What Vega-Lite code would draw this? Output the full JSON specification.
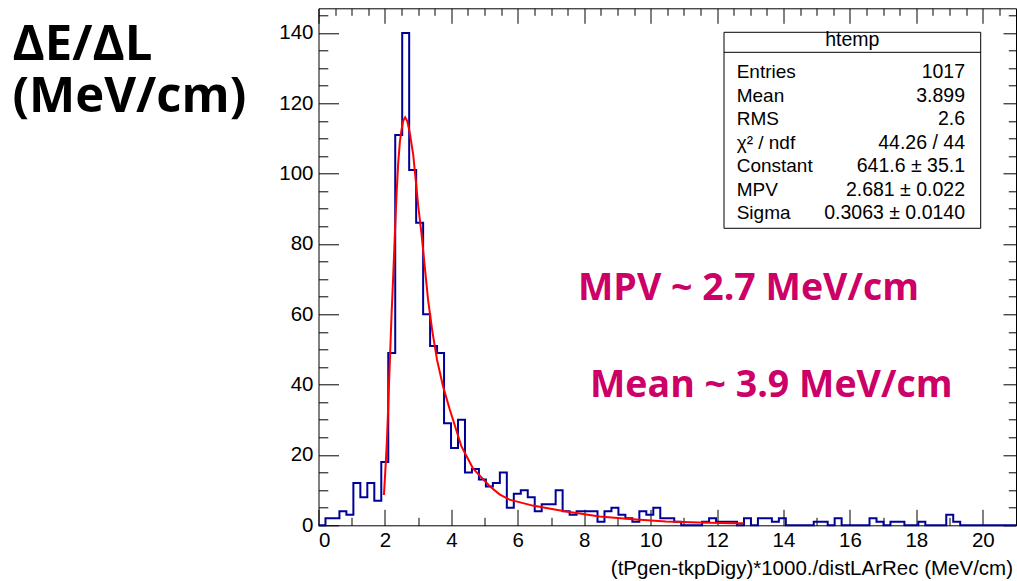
{
  "$schema": "https://vega.github.io/schema/vega-lite/v6.json",
  "width": 697.5,
  "height": 517,
  "autosize": {"type": "none"},
  "padding": {"left": 318.5, "top": 8.3, "right": 1, "bottom": 55.7},
  "background": "white",
  "config": {
    "font": "Liberation Sans",
    "view": {"stroke": "black", "strokeWidth": 1},
    "axis": {"grid": false, "domain": false, "tickColor": "black", "tickWidth": 1, "labelColor": "black", "labelFont": "Liberation Sans", "labelFontSize": 20.5}
  },
  "datasets": {
    "hist": [
      {"lo": 0, "n": 0}, {"lo": 0.21, "n": 2}, {"lo": 0.42, "n": 2}, {"lo": 0.63, "n": 4}, {"lo": 0.84, "n": 3},
      {"lo": 1.05, "n": 12}, {"lo": 1.26, "n": 8}, {"lo": 1.47, "n": 12}, {"lo": 1.68, "n": 7}, {"lo": 1.89, "n": 18},
      {"lo": 2.1, "n": 49}, {"lo": 2.31, "n": 111}, {"lo": 2.52, "n": 140}, {"lo": 2.73, "n": 101}, {"lo": 2.94, "n": 86},
      {"lo": 3.15, "n": 60}, {"lo": 3.36, "n": 51}, {"lo": 3.57, "n": 49}, {"lo": 3.78, "n": 29}, {"lo": 3.99, "n": 22},
      {"lo": 4.2, "n": 30}, {"lo": 4.41, "n": 15}, {"lo": 4.62, "n": 16}, {"lo": 4.83, "n": 13}, {"lo": 5.04, "n": 11},
      {"lo": 5.25, "n": 12}, {"lo": 5.46, "n": 15}, {"lo": 5.67, "n": 5}, {"lo": 5.88, "n": 9}, {"lo": 6.09, "n": 10},
      {"lo": 6.3, "n": 8}, {"lo": 6.51, "n": 4}, {"lo": 6.72, "n": 6}, {"lo": 6.93, "n": 6}, {"lo": 7.14, "n": 10},
      {"lo": 7.35, "n": 4}, {"lo": 7.56, "n": 3}, {"lo": 7.77, "n": 4}, {"lo": 7.98, "n": 4}, {"lo": 8.19, "n": 4},
      {"lo": 8.4, "n": 1}, {"lo": 8.61, "n": 4}, {"lo": 8.82, "n": 5}, {"lo": 9.03, "n": 3}, {"lo": 9.24, "n": 2},
      {"lo": 9.45, "n": 1}, {"lo": 9.66, "n": 4}, {"lo": 9.87, "n": 3}, {"lo": 10.08, "n": 5}, {"lo": 10.29, "n": 2},
      {"lo": 10.5, "n": 2}, {"lo": 10.71, "n": 1}, {"lo": 10.92, "n": 0}, {"lo": 11.13, "n": 0}, {"lo": 11.34, "n": 0},
      {"lo": 11.55, "n": 1}, {"lo": 11.76, "n": 2}, {"lo": 11.97, "n": 1}, {"lo": 12.18, "n": 1}, {"lo": 12.39, "n": 1},
      {"lo": 12.6, "n": 0}, {"lo": 12.81, "n": 2}, {"lo": 13.02, "n": 0}, {"lo": 13.23, "n": 2}, {"lo": 13.44, "n": 2},
      {"lo": 13.65, "n": 1}, {"lo": 13.86, "n": 2}, {"lo": 14.07, "n": 0}, {"lo": 14.28, "n": 0}, {"lo": 14.49, "n": 0},
      {"lo": 14.7, "n": 0}, {"lo": 14.91, "n": 1}, {"lo": 15.12, "n": 1}, {"lo": 15.33, "n": 0}, {"lo": 15.54, "n": 2},
      {"lo": 15.75, "n": 0}, {"lo": 15.96, "n": 0}, {"lo": 16.17, "n": 0}, {"lo": 16.38, "n": 0}, {"lo": 16.59, "n": 2},
      {"lo": 16.8, "n": 1}, {"lo": 17.01, "n": 0}, {"lo": 17.22, "n": 1}, {"lo": 17.43, "n": 1}, {"lo": 17.64, "n": 0},
      {"lo": 17.85, "n": 0}, {"lo": 18.06, "n": 1}, {"lo": 18.27, "n": 0}, {"lo": 18.48, "n": 0}, {"lo": 18.69, "n": 0},
      {"lo": 18.9, "n": 3}, {"lo": 19.11, "n": 1}, {"lo": 19.32, "n": 0}, {"lo": 19.53, "n": 0}, {"lo": 19.74, "n": 0},
      {"lo": 19.95, "n": 0}, {"lo": 20.16, "n": 0}, {"lo": 20.37, "n": 0}, {"lo": 20.58, "n": 0}, {"lo": 20.79, "n": 0},
      {"lo": 21.0, "n": 0}
    ],
    "fit": [
      {"e": 1.97, "f": 8.6}, {"e": 2.0, "f": 13.5}, {"e": 2.03, "f": 18.6}, {"e": 2.06, "f": 24}, {"e": 2.1, "f": 34},
      {"e": 2.15, "f": 47}, {"e": 2.2, "f": 60}, {"e": 2.25, "f": 71}, {"e": 2.3, "f": 83}, {"e": 2.35, "f": 94},
      {"e": 2.4, "f": 103}, {"e": 2.45, "f": 109}, {"e": 2.5, "f": 112.5}, {"e": 2.55, "f": 115}, {"e": 2.61, "f": 116},
      {"e": 2.67, "f": 115}, {"e": 2.75, "f": 111.5}, {"e": 2.85, "f": 105.5}, {"e": 2.95, "f": 96}, {"e": 3.0, "f": 91},
      {"e": 3.1, "f": 83}, {"e": 3.2, "f": 73.5}, {"e": 3.3, "f": 64}, {"e": 3.43, "f": 55}, {"e": 3.57, "f": 47},
      {"e": 3.75, "f": 39.5}, {"e": 3.95, "f": 33}, {"e": 4.1, "f": 28.5}, {"e": 4.3, "f": 22.5}, {"e": 4.65, "f": 16.2},
      {"e": 5.15, "f": 11.2}, {"e": 5.45, "f": 8.8}, {"e": 5.75, "f": 7.3}, {"e": 6.45, "f": 5.6}, {"e": 7.46, "f": 3.9},
      {"e": 8.46, "f": 2.5}, {"e": 9.46, "f": 1.7}, {"e": 10.46, "f": 1.1}, {"e": 11.46, "f": 0.8}, {"e": 12.45, "f": 0.6},
      {"e": 12.8, "f": 0.55}
    ]
  },
  "layer": [
    {
      "data": {"name": "hist"},
      "mark": {"type": "line", "interpolate": "step-after", "color": "#000099", "strokeWidth": 2},
      "encoding": {
        "x": {
          "field": "lo", "type": "quantitative",
          "scale": {"domain": [0, 21], "nice": false, "zero": false},
          "axis": {
            "orient": "bottom",
            "values": [0,0.5,1,1.5,2,2.5,3,3.5,4,4.5,5,5.5,6,6.5,7,7.5,8,8.5,9,9.5,10,10.5,11,11.5,12,12.5,13,13.5,14,14.5,15,15.5,16,16.5,17,17.5,18,18.5,19,19.5,20,20.5,21],
            "format": "d",
            "labelExpr": "datum.value % 2 === 0 ? datum.label : ''",
            "tickSize": {"condition": {"test": "datum.value % 2 === 0", "value": -16}, "value": -8},
            "labelPadding": 21,
            "title": "(tPgen-tkpDigy)*1000./distLArRec (MeV/cm)",
            "titleFont": "Liberation Sans", "titleFontSize": 20.5, "titleFontWeight": "normal", "titleColor": "black",
            "titleAlign": "right", "titleAnchor": "end", "titleBaseline": "alphabetic",
            "titleX": 694, "titleY": 49
          }
        },
        "y": {
          "field": "n", "type": "quantitative",
          "scale": {"domain": [0, 147], "nice": false},
          "axis": {
            "orient": "left",
            "values": [0,5,10,15,20,25,30,35,40,45,50,55,60,65,70,75,80,85,90,95,100,105,110,115,120,125,130,135,140,145],
            "format": "d",
            "labelExpr": "datum.value % 20 === 0 ? datum.label : ''",
            "tickSize": {"condition": {"test": "datum.value % 20 === 0", "value": -20}, "value": -9.3},
            "labelPadding": 25.5,
            "title": ["ΔE/ΔL", "(MeV/cm)"],
            "titleFont": "Open Sans", "titleFontSize": 49, "titleFontWeight": "bold", "titleColor": "black",
            "titleAngle": 0, "titleAlign": "left", "titleBaseline": "top", "titleLineHeight": 52,
            "titleX": -306.5, "titleY": 12
          }
        }
      }
    },
    {
      "data": {"name": "fit"},
      "mark": {"type": "line", "color": "#ff0000", "strokeWidth": 2},
      "encoding": {
        "x": {
          "field": "e", "type": "quantitative",
          "scale": {"domain": [0, 21], "nice": false, "zero": false},
          "axis": {
            "orient": "top",
            "values": [0,0.5,1,1.5,2,2.5,3,3.5,4,4.5,5,5.5,6,6.5,7,7.5,8,8.5,9,9.5,10,10.5,11,11.5,12,12.5,13,13.5,14,14.5,15,15.5,16,16.5,17,17.5,18,18.5,19,19.5,20,20.5,21],
            "labels": false,
            "tickSize": {"condition": {"test": "datum.value % 2 === 0", "value": -15}, "value": -7},
            "title": null
          }
        },
        "y": {
          "field": "f", "type": "quantitative",
          "scale": {"domain": [0, 147], "nice": false},
          "axis": {
            "orient": "right",
            "values": [0,5,10,15,20,25,30,35,40,45,50,55,60,65,70,75,80,85,90,95,100,105,110,115,120,125,130,135,140,145],
            "labels": false,
            "tickSize": {"condition": {"test": "datum.value % 20 === 0", "value": -13}, "value": -7.7},
            "title": null
          }
        }
      }
    },
    {
      "data": {"values": [{}]},
      "mark": {"type": "rect", "fill": "white", "stroke": "black", "strokeWidth": 1},
      "encoding": {
        "x": {"datum": 12.209, "type": "quantitative", "axis": null},
        "x2": {"datum": 19.937},
        "y": {"datum": 140.18, "type": "quantitative", "axis": null},
        "y2": {"datum": 84.45}
      }
    },
    {
      "data": {"values": [{}]},
      "mark": {"type": "rule", "color": "black", "strokeWidth": 1},
      "encoding": {
        "x": {"datum": 12.209, "type": "quantitative", "axis": null},
        "x2": {"datum": 19.937},
        "y": {"datum": 134.49, "type": "quantitative", "axis": null}
      }
    },
    {
      "data": {"values": [{}]},
      "mark": {"type": "text", "text": "htemp", "font": "Liberation Sans", "fontSize": 19.5, "align": "center", "baseline": "alphabetic", "color": "black"},
      "encoding": {
        "x": {"datum": 16.07, "type": "quantitative", "axis": null},
        "y": {"datum": 136.3, "type": "quantitative", "axis": null}
      }
    },
    {
      "data": {"values": [{}]},
      "mark": {"type": "text", "text": ["Entries", "Mean", "RMS", "χ² / ndf", "Constant", "MPV", "Sigma"], "lineHeight": 23.5, "font": "Liberation Sans", "fontSize": 19, "align": "left", "baseline": "alphabetic", "color": "black"},
      "encoding": {
        "x": {"datum": 12.59, "type": "quantitative", "axis": null},
        "y": {"datum": 127.1, "type": "quantitative", "axis": null}
      }
    },
    {
      "data": {"values": [{}]},
      "mark": {"type": "text", "text": ["1017", "3.899", "2.6", "44.26 / 44", "641.6 ± 35.1", "2.681 ± 0.022", "0.3063 ± 0.0140"], "lineHeight": 23.5, "font": "Liberation Sans", "fontSize": 19.5, "align": "right", "baseline": "alphabetic", "color": "black"},
      "encoding": {
        "x": {"datum": 19.465, "type": "quantitative", "axis": null},
        "y": {"datum": 127.1, "type": "quantitative", "axis": null}
      }
    },
    {
      "data": {"values": [{}]},
      "mark": {"type": "text", "text": "MPV ~ 2.7 MeV/cm", "font": "Open Sans", "fontWeight": "bold", "fontSize": 37.5, "align": "left", "baseline": "alphabetic", "color": "#CC0066"},
      "encoding": {
        "x": {"datum": 7.813, "type": "quantitative", "axis": null},
        "y": {"datum": 64.06, "type": "quantitative", "axis": null}
      }
    },
    {
      "data": {"values": [{}]},
      "mark": {"type": "text", "text": "Mean ~ 3.9 MeV/cm", "font": "Open Sans", "fontWeight": "bold", "fontSize": 37.5, "align": "left", "baseline": "alphabetic", "color": "#CC0066"},
      "encoding": {
        "x": {"datum": 8.174, "type": "quantitative", "axis": null},
        "y": {"datum": 36.48, "type": "quantitative", "axis": null}
      }
    }
  ],
  "resolve": {"axis": {"x": "independent", "y": "independent"}}
}
